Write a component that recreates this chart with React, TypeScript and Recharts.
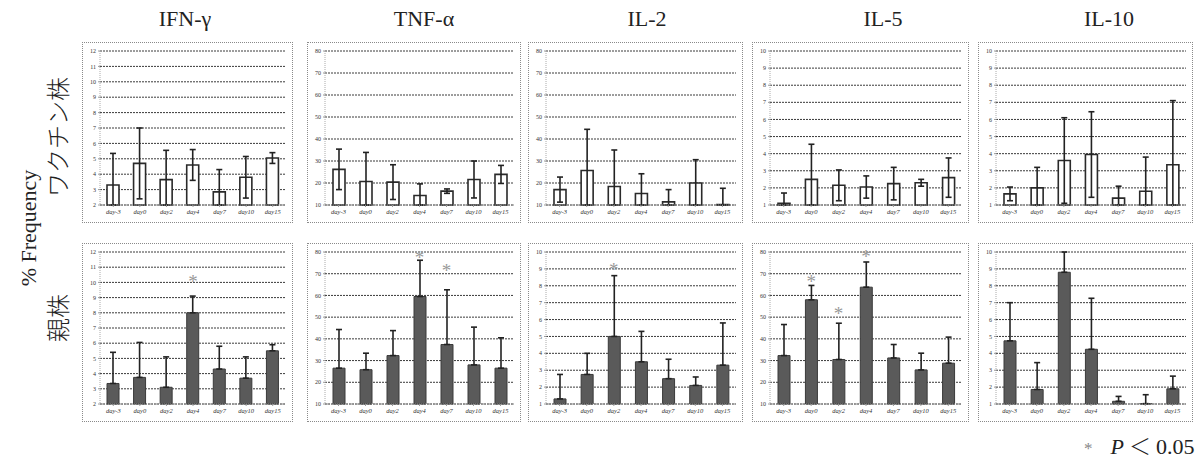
import { ComposedChart, Bar, ErrorBar, Scatter, XAxis, YAxis, CartesianGrid } from 'recharts';

const days = ['day-3', 'day0', 'day2', 'day4', 'day7', 'day10', 'day15'];
const titles = ['IFN-γ', 'TNF-α', 'IL-2', 'IL-5', 'IL-10'];

const ticks1to10 = [1, 2, 3, 4, 5, 6, 7, 8, 9, 10];
const ticks2to12 = [2, 3, 4, 5, 6, 7, 8, 9, 10, 11, 12];
const ticks10to80 = [10, 20, 30, 40, 50, 60, 70, 80];

// vaccine strain (top row)
const ifnVacMean = [3.3, 4.7, 3.65, 4.6, 2.85, 3.8, 5.05];
const ifnVacSd = [2.05, 2.3, 1.9, 1.0, 1.45, 1.35, 0.35];
const tnfVacMean = [26.2, 20.7, 20.4, 14.3, 16.3, 21.6, 23.9];
const tnfVacSd = [9.2, 13.2, 7.9, 5.3, 1.0, 8.4, 4.1];
const il2VacMean = [17, 25.7, 18.4, 15.2, 11.4, 20, 10.2];
const il2VacSd = [5.7, 18.7, 16.6, 9, 5.6, 10.6, 7.4];
const il5VacMean = [1.1, 2.5, 2.15, 2.05, 2.25, 2.3, 2.6];
const il5VacSd = [0.6, 2.05, 0.9, 0.65, 0.95, 0.2, 1.15];
const il10VacMean = [1.65, 2.0, 3.6, 3.95, 1.4, 1.8, 3.35];
const il10VacSd = [0.4, 1.2, 2.5, 2.5, 0.7, 2.0, 3.75];

// parent strain (bottom row)
const ifnParMean = [3.35, 3.75, 3.1, 8.0, 4.3, 3.7, 5.5];
const ifnParSd = [2.05, 2.3, 2.0, 1.1, 1.5, 1.4, 0.4];
const ifnParStars = [null, null, null, 10.2, null, null, null];
const tnfParMean = [26.5, 25.8, 32.3, 59.5, 37.4, 28, 26.5];
const tnfParSd = [17.8, 7.6, 11.5, 16.7, 25.2, 17.4, 14];
const tnfParStars = [null, null, null, 78.5, 72.5, null, null];
const il2ParMean = [1.3, 2.75, 5.0, 3.5, 2.5, 2.1, 3.3];
const il2ParSd = [1.45, 1.25, 3.6, 1.8, 1.15, 0.5, 2.5];
const il2ParStars = [null, null, 9.1, null, null, null, null];
const il5ParMean = [32.3, 58, 30.5, 63.8, 31.2, 25.7, 28.8];
const il5ParSd = [14.3, 6.6, 16.7, 11.6, 6.2, 7.7, 12];
const il5ParStars = [null, 67.5, 53, 79, null, null, null];
const il10ParMean = [4.74, 1.86, 8.8, 4.24, 1.16, 1.02, 1.9];
const il10ParSd = [2.26, 1.59, 1.2, 3.02, 0.29, 0.53, 0.75];

type Spec = { ticks: number[]; mean: number[]; sd: number[]; stars?: (number | null)[] };

const topRow: Spec[] = [
  { ticks: ticks2to12, mean: ifnVacMean, sd: ifnVacSd },
  { ticks: ticks10to80, mean: tnfVacMean, sd: tnfVacSd },
  { ticks: ticks10to80, mean: il2VacMean, sd: il2VacSd },
  { ticks: ticks1to10, mean: il5VacMean, sd: il5VacSd },
  { ticks: ticks1to10, mean: il10VacMean, sd: il10VacSd },
];
const bottomRow: Spec[] = [
  { ticks: ticks2to12, mean: ifnParMean, sd: ifnParSd, stars: ifnParStars },
  { ticks: ticks10to80, mean: tnfParMean, sd: tnfParSd, stars: tnfParStars },
  { ticks: ticks1to10, mean: il2ParMean, sd: il2ParSd, stars: il2ParStars },
  { ticks: ticks10to80, mean: il5ParMean, sd: il5ParSd, stars: il5ParStars },
  { ticks: ticks1to10, mean: il10ParMean, sd: il10ParSd },
];

const panelX = [82, 307, 528, 752, 978];
const panelW = [211, 214, 215, 217, 215];
const titleX = [185, 424, 647, 883, 1109];

const serif = '"Liberation Serif", "DejaVu Serif", serif';
const cjk = '"Noto Sans CJK JP", sans-serif';

const Star = (props: any) => {
  const { cx, cy, payload } = props;
  if (payload == null || payload.star == null || !Number.isFinite(cy)) return null;
  return (
    <text x={cx} y={cy + 9} textAnchor="middle" fontSize={19} fill="#999" fontFamily={serif}>
      *
    </text>
  );
};

function Panel({ spec, filled, left, top, width, height }: { spec: Spec; filled: boolean; left: number; top: number; width: number; height: number }) {
  const lo = spec.ticks[0];
  const hi = spec.ticks[spec.ticks.length - 1];
  const data = days.map((d, i) => ({
    day: d,
    v: spec.mean[i],
    err: filled ? [0, spec.sd[i]] : [Math.min(spec.sd[i], spec.mean[i] - lo), spec.sd[i]],
    star: spec.stars ? spec.stars[i] : null,
  }));
  return (
    <div style={{ position: 'absolute', left, top, width, height, border: '1.5px dotted #8a8a8a', boxSizing: 'border-box', background: '#fff' }}>
      <ComposedChart width={width - 3} height={height - 3} data={data} margin={{ top: 8, right: 5, bottom: 0, left: 0 }}>
        <CartesianGrid vertical={false} stroke="#3a3a3a" strokeDasharray="2 1" />
        <XAxis
          dataKey="day"
          interval={0}
          height={16}
          tick={{ fontSize: 6.5, fill: '#333', fontFamily: serif, fontStyle: 'italic' }}
          tickLine={{ stroke: '#999' }}
          tickSize={2}
          axisLine={{ stroke: '#888', strokeDasharray: '1 1' }}
        />
        <YAxis
          type="number"
          domain={[lo, hi]}
          ticks={spec.ticks}
          interval={0}
          width={17}
          tick={{ fontSize: 6, fill: '#333', fontFamily: serif }}
          tickLine={{ stroke: '#999' }}
          tickSize={2}
          axisLine={{ stroke: '#aaa', strokeDasharray: '1 1' }}
        />
        <Bar
          dataKey="v"
          barSize={12}
          fill={filled ? '#5a5a5a' : '#ffffff'}
          stroke={filled ? '#3a3a3a' : '#2a2a2a'}
          strokeWidth={filled ? 1 : 1.6}
          isAnimationActive={false}
        >
          <ErrorBar dataKey="err" width={3} stroke="#222" strokeWidth={1.6} />
        </Bar>
        {spec.stars ? <Scatter dataKey="star" shape={Star} isAnimationActive={false} /> : null}
      </ComposedChart>
    </div>
  );
}

export default function App() {
  return (
    <div style={{ position: 'absolute', left: 0, top: 0, width: 1200, height: 466, background: '#fff', fontFamily: serif, color: '#222' }}>
      {titles.map((t, i) => (
        <div key={t} style={{ position: 'absolute', left: titleX[i], top: 6, transform: 'translateX(-50%)', fontSize: 22, whiteSpace: 'nowrap' }}>
          {t}
        </div>
      ))}
      <div style={{ position: 'absolute', left: 29, top: 228, transform: 'translate(-50%, -50%) rotate(-90deg)', fontSize: 22, whiteSpace: 'nowrap' }}>
        % Frequency
      </div>
      <div style={{ position: 'absolute', left: 56, top: 137, transform: 'translate(-50%, -50%) rotate(-90deg)', fontSize: 24, whiteSpace: 'nowrap', fontFamily: cjk, fontWeight: 300 }}>
        ワクチン株
      </div>
      <div style={{ position: 'absolute', left: 56, top: 318, transform: 'translate(-50%, -50%) rotate(-90deg)', fontSize: 24, whiteSpace: 'nowrap', fontFamily: cjk, fontWeight: 300 }}>
        親株
      </div>
      {topRow.map((s, i) => (
        <Panel key={'t' + i} spec={s} filled={false} left={panelX[i]} top={42} width={panelW[i]} height={181} />
      ))}
      {bottomRow.map((s, i) => (
        <Panel key={'b' + i} spec={s} filled={true} left={panelX[i]} top={243} width={panelW[i]} height={179} />
      ))}
      <div style={{ position: 'absolute', left: 1084, top: 428, fontSize: 22, whiteSpace: 'nowrap' }}>
        <span style={{ color: '#888', fontSize: 17, marginRight: 18 }}>*</span>
        <span style={{ fontStyle: 'italic' }}>P</span>
        <span style={{ fontFamily: cjk, fontWeight: 300, margin: '0 5px' }}>＜</span>
        <span>0.05</span>
      </div>
    </div>
  );
}
